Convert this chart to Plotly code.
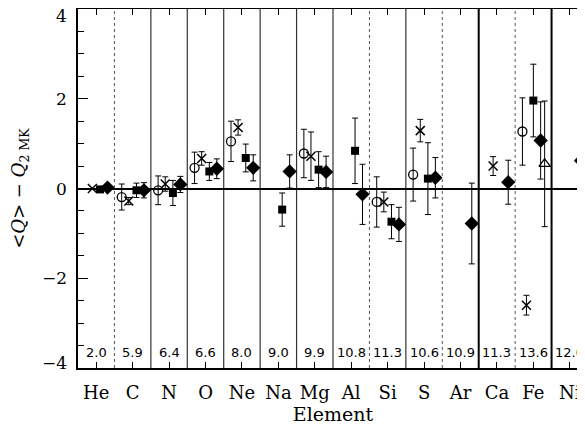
import plotly.graph_objects as go

elements = ["He", "C", "N", "O", "Ne", "Na", "Mg", "Al", "Si", "S", "Ar", "Ca", "Fe", "Ni"]
col_labels = ["2.0", "5.9", "6.4", "6.6", "8.0", "9.0", "9.9", "10.8", "11.3", "10.6", "10.9", "11.3", "13.6", "12.0"]
y_tick_vals = [-4, -2, 0, 2, 4]
y_tick_text = ["−4", "−2", "0", "2", "4"]

# values (<Q> - Q_2MK) and symmetric errors, None = not measured
circle_val = [None, -0.19, -0.04, 0.46, 1.05, None, 0.78, None, -0.30, 0.31, None, None, 1.27, None]
circle_err = [None, 0.29, 0.32, 0.35, 0.45, None, 0.54, None, 0.56, 0.59, None, None, 0.75, None]

cross_val = [0.00, -0.28, 0.10, 0.67, 1.36, None, 0.72, None, -0.30, 1.29, None, 0.50, -2.60, None]
cross_err = [0.00, 0.08, 0.16, 0.15, 0.17, None, 0.54, None, 0.22, 0.25, None, 0.21, 0.22, None]

square_val = [-0.02, -0.04, -0.10, 0.38, 0.68, -0.47, 0.42, 0.84, -0.74, 0.22, None, None, 1.96, None]
square_err = [0.00, 0.16, 0.28, 0.20, 0.31, 0.37, 0.40, 0.73, 0.38, 0.80, None, None, 0.81, None]

diamond_val = [0.02, -0.04, 0.09, 0.44, 0.46, 0.38, 0.37, -0.13, -0.80, 0.24, -0.78, 0.14, 1.07, 0.62]
diamond_err = [0.00, 0.17, 0.18, 0.22, 0.29, 0.37, 0.35, 0.67, 0.38, 0.45, 0.90, 0.49, 0.86, 1.28]

triangle_val = [None, None, None, None, None, None, None, None, None, None, None, None, 0.55, None]
triangle_err = [None, None, None, None, None, None, None, None, None, None, None, None, 1.40, None]

# styling / placement
offsets = {"circle": -0.30, "cross": -0.105, "square": 0.105, "diamond": 0.31, "triangle": 0.31}
fe_offsets = {"circle": -0.30, "cross": -0.19, "square": 0.0, "diamond": 0.20, "triangle": 0.31}

styles = {
    "circle": dict(symbol="circle-open", size=9, color="black", line=dict(width=1.3, color="black")),
    "cross": dict(symbol="x-thin-open", size=9, color="black", line=dict(width=1.5, color="black")),
    "square": dict(symbol="square", size=8, color="black", line=dict(width=0)),
    "diamond": dict(symbol="diamond", size=11, color="black", line=dict(width=0)),
    "triangle": dict(symbol="triangle-up-open", size=10, color="black", line=dict(width=1.3, color="black")),
}

series = [
    ("circle", circle_val, circle_err),
    ("cross", cross_val, cross_err),
    ("square", square_val, square_err),
    ("diamond", diamond_val, diamond_err),
    ("triangle", triangle_val, triangle_err),
]

fig = go.Figure()

for name, vals, errs in series:
    xs, ys, es = [], [], []
    for i, (v, e) in enumerate(zip(vals, errs)):
        if v is None:
            continue
        off = fe_offsets[name] if elements[i] == "Fe" else offsets[name]
        xs.append(i + off)
        ys.append(v)
        es.append(e)
    fig.add_trace(go.Scatter(
        x=xs, y=ys, mode="markers", name=name, showlegend=False,
        marker=styles[name],
        error_y=dict(type="data", array=es, visible=True, color="black", thickness=1, width=3),
        cliponaxis=False,
    ))

# column separators
sep_styles = {1: ("dot", 1, "#555"), 8: ("dot", 1, "#555"), 10: ("dot", 1, "#555"), 12: ("dot", 1, "#555"),
              11: ("solid", 2, "black"), 13: ("solid", 2, "black")}
for k in range(1, len(elements)):
    dash, w, c = sep_styles.get(k, ("solid", 1.2, "#333"))
    fig.add_shape(type="line", xref="x", yref="y", x0=k - 0.5, x1=k - 0.5, y0=-4, y1=4,
                  line=dict(color=c, width=w, dash=dash), layer="below")

# column numbers
for i, lab in enumerate(col_labels):
    fig.add_annotation(x=i, y=-3.66, xref="x", yref="y", text=lab, showarrow=False,
                       font=dict(family="DejaVu Sans", size=13, color="black"))

# y tick labels (end labels nudged inward like the original)
for v, t in zip(y_tick_vals, y_tick_text):
    shift = -7 if v == max(y_tick_vals) else (5 if v == min(y_tick_vals) else 0)
    fig.add_annotation(x=0, y=v, xref="paper", yref="y", text=t, showarrow=False,
                       xanchor="right", yanchor="middle", xshift=-9, yshift=shift,
                       font=dict(family="DejaVu Serif", size=17, color="black"))

# y-axis title
fig.add_annotation(x=-0.115, y=0.5, xref="paper", yref="paper", textangle=-90,
                   text="&lt;<i>Q</i>&gt; − <i>Q</i><sub>2 MK</sub>", showarrow=False,
                   xanchor="center", yanchor="middle",
                   font=dict(family="DejaVu Serif", size=18, color="black"))

fig.update_layout(
    template="none",
    width=585, height=429,
    margin=dict(l=70, r=5, t=1, b=69, autoexpand=False),
    plot_bgcolor="white", paper_bgcolor="white",
    font=dict(family="DejaVu Serif", color="black"),
    xaxis=dict(range=[-0.5, 13.5], tickmode="array", tickvals=list(range(len(elements))), ticktext=elements,
               ticks="inside", ticklen=6, tickwidth=1, tickcolor="black",
               showline=True, linewidth=2, linecolor="black", mirror="ticks",
               showgrid=False, zeroline=False, automargin=False, ticklabelstandoff=7,
               tickfont=dict(family="DejaVu Serif", size=18, color="black"),
               title=dict(text="Element", standoff=6,
                          font=dict(family="DejaVu Serif", size=19, color="black"))),
    yaxis=dict(range=[-4, 4], tickmode="array", tickvals=y_tick_vals, showticklabels=False,
               ticks="inside", ticklen=10, tickwidth=1, tickcolor="black",
               minor=dict(dtick=0.5, ticks="inside", ticklen=6, tickwidth=1, tickcolor="black", showgrid=False),
               showline=True, linewidth=1.5, linecolor="black", mirror="ticks",
               showgrid=False, zeroline=True, zerolinewidth=2, zerolinecolor="black",
               automargin=False),
)

fig.write_html("out.html")
